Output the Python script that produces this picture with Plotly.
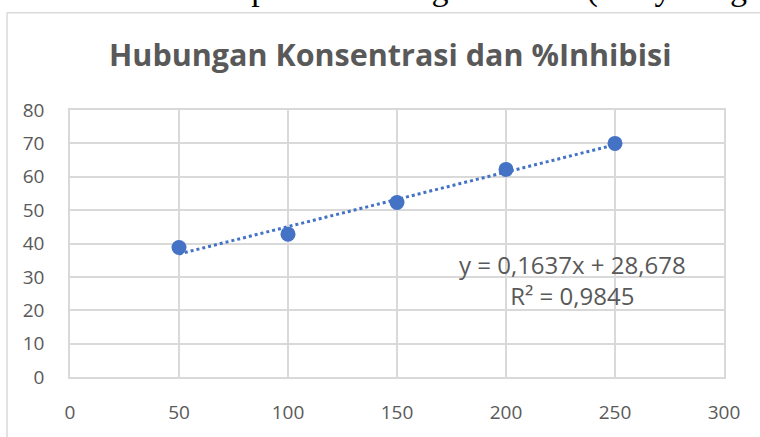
import numpy as np
import plotly.graph_objects as go

konsentrasi = [50, 100, 150, 200, 250]
inhibisi = [38.8, 42.8, 52.3, 62.2, 70.0]
x_ticks = [0, 50, 100, 150, 200, 250, 300]
y_ticks = [0, 10, 20, 30, 40, 50, 60, 70, 80]
title_text = "Hubungan Konsentrasi dan %Inhibisi"
eq_text = "y = 0,1637x + 28,678<br>R² = 0,9845"
top_text = "berdasarkan temuan persamaan regresi linier (Ganyaningsih"

W, H = 760, 437
L, R, T, B = 70, 36, 110, 58
pw, ph = W - L - R, H - T - B

def px_x(p):
    return (p - L) / pw

def px_y(p):
    return (H - B - p) / ph

slope, intercept = np.polyfit(konsentrasi, inhibisi, 1)
tx = [min(konsentrasi), max(konsentrasi)]
ty = [slope * v + intercept for v in tx]

blue = "#4472C4"
gray = "#595959"
grid = "#D9D9D9"

fig = go.Figure()
fig.add_trace(go.Scatter(x=tx, y=ty, mode="lines",
                         line=dict(color=blue, width=3, dash="dot"),
                         hoverinfo="skip", showlegend=False))
fig.add_trace(go.Scatter(x=konsentrasi, y=inhibisi, mode="markers",
                         marker=dict(color=blue, size=15),
                         showlegend=False))

fig.update_layout(
    width=W, height=H,
    margin=dict(l=L, r=R, t=T, b=B),
    paper_bgcolor="white", plot_bgcolor="white",
    font=dict(family="Open Sans, sans-serif", color=gray),
    xaxis=dict(range=[0, 300], tickvals=x_ticks, showgrid=True, gridcolor=grid,
               gridwidth=1.5, zeroline=False, showline=True, linecolor=grid,
               linewidth=1.5, mirror=True, ticks="", tickfont=dict(size=19, color=gray),
               ticklabelstandoff=17),
    yaxis=dict(range=[0, 80], tickvals=y_ticks, showgrid=True, gridcolor=grid,
               gridwidth=1.5, zeroline=False, showline=True, linecolor=grid,
               linewidth=1.5, mirror=True, ticks="", tickfont=dict(size=19, color=gray),
               ticklabelstandoff=20),
)

fig.add_annotation(text="<b>" + title_text + "</b>", xref="paper", yref="paper",
                   x=px_x(390), y=px_y(54), xanchor="center", yanchor="middle",
                   showarrow=False, font=dict(size=30.5, color=gray, family="Open Sans, sans-serif"))
fig.add_annotation(text=eq_text, xref="paper", yref="paper",
                   x=px_x(572), y=px_y(281), xanchor="center", yanchor="middle",
                   showarrow=False, align="center",
                   font=dict(size=24, color=gray, family="Open Sans, sans-serif"))
fig.add_annotation(text=top_text, xref="paper", yref="paper",
                   x=px_x(-32), y=px_y(-12), xanchor="left", yanchor="middle",
                   showarrow=False,
                   font=dict(size=34, color="black", family="Liberation Serif, serif"))

fig.add_shape(type="line", xref="paper", yref="paper",
              x0=px_x(7), x1=px_x(7), y0=px_y(12), y1=px_y(460),
              line=dict(color=grid, width=1.5))
fig.add_shape(type="line", xref="paper", yref="paper",
              x0=px_x(7), x1=px_x(800), y0=px_y(12), y1=px_y(12),
              line=dict(color=grid, width=1.5))

fig.write_html("out.html", config={"displayModeBar": False},
               post_script="document.body.style.margin='0';document.body.style.overflow='hidden';")
